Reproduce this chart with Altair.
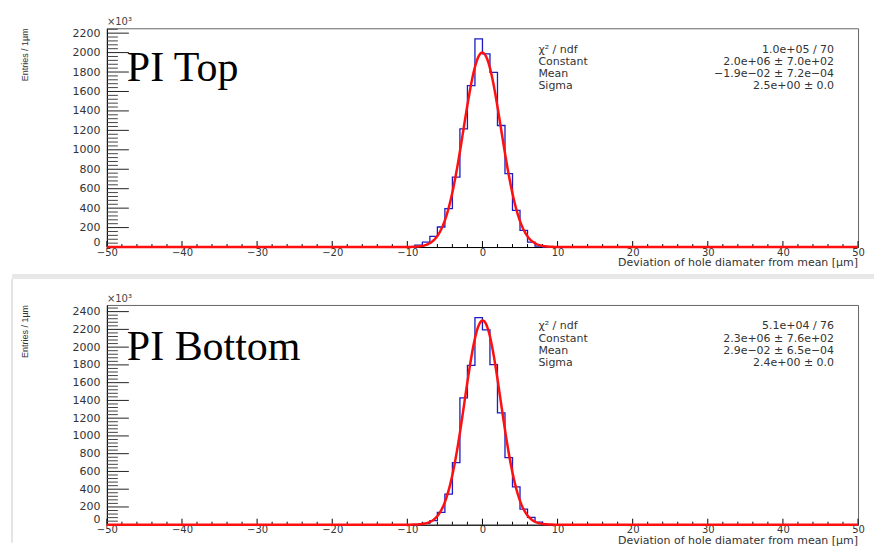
import altair as alt
import numpy as np
import pandas as pd

# ---------------- data (counts in units of 10^3 entries per 1 um bin) ----------------
X_MIN, X_MAX = -50, 50

top_bin_lo = [-10, -9, -8, -7, -6, -5, -4, -3, -2, -1, 0, 1, 2, 3, 4, 5, 6, 7]
top_counts = [3, 20, 51, 110, 206, 394, 720, 1216, 1661, 2141, 1986, 1797, 1250, 754, 376, 171, 51, 10]

bot_bin_lo = [-8, -7, -6, -5, -4, -3, -2, -1, 0, 1, 2, 3, 4, 5, 6, 7]
bot_counts = [15, 45, 139, 344, 700, 1428, 1794, 2333, 2195, 1802, 1260, 756, 426, 176, 83, 30]

# Gaussian fit parameters (Constant, Mean, Sigma)
top_fit = [2.0e6, -1.9e-2, 2.5]
bot_fit = [2.3e6, 2.9e-2, 2.4]

stat_names = ["χ² / ndf", "Constant", "Mean", "Sigma"]
top_stat_vals = ["1.0e+05 / 70", "2.0e+06 ± 7.0e+02", "−1.9e−02 ± 7.2e−04", "2.5e+00 ± 0.0"]
bot_stat_vals = ["5.1e+04 / 76", "2.3e+06 ± 7.6e+02", "2.9e−02 ± 6.5e−04", "2.4e+00 ± 0.0"]

x_major = list(range(-50, 51, 10))
x_minor = [v for v in range(-50, 51, 2) if v % 10]

X_TITLE = "Deviation of hole diamater from mean [µm]"
Y_TITLE = "Entries / 1µm"

TXT = "#333333"
SANS = "DejaVu Sans"
W = 752


def one():
    return alt.Data(values=[{"k": 0}])


def panel(bin_lo, counts, fit, stat_vals, label, label_y, ymax, ytop, H, band=False):
    # histogram outline: one point per bin edge, drawn as a step line
    lookup = dict(zip(bin_lo, counts))
    edges = list(range(X_MIN, X_MAX))
    hist = pd.DataFrame({"x": edges + [X_MAX],
                         "y": [lookup.get(e, 0) for e in edges] + [0]})

    const, mean, sigma = fit
    xs = np.linspace(X_MIN, X_MAX, 1001)
    fit_df = pd.DataFrame({"x": xs,
                           "y": const / 1e3 * np.exp(-0.5 * ((xs - mean) / sigma) ** 2)})

    xs_ = alt.Scale(domain=[X_MIN, X_MAX], nice=False, zero=False)
    ys_ = alt.Scale(domain=[0, ymax], nice=False, zero=True)

    x_axis = alt.Axis(values=x_major, title=None, grid=False, ticks=False,
                      domain=True, domainColor="black", labelFont=SANS,
                      labelFontSize=10, labelColor=TXT, labelPadding=0,
                      labelFlush=False)
    y_axis = alt.Axis(values=list(range(0, ytop + 1, 200)), title=None, grid=False,
                      ticks=False, domain=True, domainColor="black", format="d",
                      labelFont=SANS, labelFontSize=11, labelColor=TXT,
                      labelPadding=7,
                      labelBaseline={"condition": {"test": "datum.value === 0",
                                                   "value": "bottom"},
                                     "value": "middle"})

    X = lambda: alt.X("x:Q", scale=xs_, axis=x_axis)
    Y = lambda: alt.Y("y:Q", scale=ys_, axis=y_axis)

    layers = []

    # tick marks pointing into the frame
    y_major = list(range(0, ytop + 1, 200))
    y_minor = [v for v in range(0, ymax + 1, 40) if v % 200]
    layers.append(alt.Chart(pd.DataFrame({"x": x_major})).mark_rule(color="black", strokeWidth=1)
                  .encode(x=X(), y=alt.value(H), y2=alt.value(H - 6)))
    layers.append(alt.Chart(pd.DataFrame({"x": x_minor})).mark_rule(color="black", strokeWidth=1)
                  .encode(x=X(), y=alt.value(H), y2=alt.value(H - 3)))
    layers.append(alt.Chart(pd.DataFrame({"y": y_major})).mark_rule(color="#222", strokeWidth=1)
                  .encode(y=Y(), x=alt.value(0), x2=alt.value(22)))
    layers.append(alt.Chart(pd.DataFrame({"y": y_minor})).mark_rule(color="#444", strokeWidth=1)
                  .encode(y=Y(), x=alt.value(0), x2=alt.value(11)))

    # histogram
    layers.append(alt.Chart(hist).mark_line(interpolate="step-after", color="#1c1cc0",
                                            strokeWidth=1.3)
                  .encode(x=X(), y=Y()))
    # gaussian fit
    layers.append(alt.Chart(fit_df).mark_line(color="#ff1010", strokeWidth=2.5)
                  .encode(x=X(), y=Y()))

    # statistics box
    for i, (n, v) in enumerate(zip(stat_names, stat_vals)):
        yy = 21.5 + 12.2 * i
        layers.append(alt.Chart(one()).mark_text(align="left", baseline="middle", font=SANS,
                                                 fontSize=11, color=TXT)
                      .encode(x=alt.value(432), y=alt.value(yy), text=alt.value(n)))
        layers.append(alt.Chart(one()).mark_text(align="right", baseline="middle", font=SANS,
                                                 fontSize=11, color=TXT)
                      .encode(x=alt.value(728), y=alt.value(yy), text=alt.value(v)))

    # panel label
    layers.append(alt.Chart(one()).mark_text(align="left", baseline="alphabetic",
                                             font="Liberation Serif", fontSize=42, color="black")
                  .encode(x=alt.value(20), y=alt.value(label_y), text=alt.value(label)))

    # exponent marker, axis titles
    layers.append(alt.Chart(one()).mark_text(align="left", baseline="bottom", font=SANS,
                                             fontSize=10, color="#444")
                  .encode(x=alt.value(0), y=alt.value(-1), text=alt.value("×10³")))
    layers.append(alt.Chart(one()).mark_text(align="right", baseline="middle", angle=270,
                                             font="Liberation Sans", fontSize=9, color=TXT)
                  .encode(x=alt.value(-82), y=alt.value(0), text=alt.value(Y_TITLE)))
    layers.append(alt.Chart(one()).mark_text(align="right", baseline="alphabetic", font=SANS,
                                             fontSize=11, color=TXT)
                  .encode(x=alt.value(W), y=alt.value(H + 19), text=alt.value(X_TITLE)))

    if band:
        layers.append(alt.Chart(one()).mark_rule(color="#e8e8e8", strokeWidth=5)
                      .encode(x=alt.value(-95), x2=alt.value(768), y=alt.value(-28.5)))
        layers.append(alt.Chart(one()).mark_rule(color="#e4e4e4", strokeWidth=2)
                      .encode(x=alt.value(-95), y=alt.value(-26), y2=alt.value(238)))
    else:
        layers.append(alt.Chart(one()).mark_rule(color="white", strokeWidth=2)
                      .encode(x=alt.value(-95), y=alt.value(0), y2=alt.value(10)))

    return alt.layer(*layers).properties(width=W, height=H)


top = panel(top_bin_lo, top_counts, top_fit, top_stat_vals, "PI Top", 53,
            2250, 2200, 219)
bottom = panel(bot_bin_lo, bot_counts, bot_fit, bot_stat_vals, "PI Bottom", 55,
               2475, 2400, 220, band=True)

chart = (alt.vconcat(top, bottom, spacing=4)
         .properties(padding={"left": 9, "top": 16, "right": 0, "bottom": 0},
                     background="white")
         .configure_view(stroke="#666666", strokeWidth=1))

chart.save("out.html", embed_options={"renderer": "svg", "actions": False})
